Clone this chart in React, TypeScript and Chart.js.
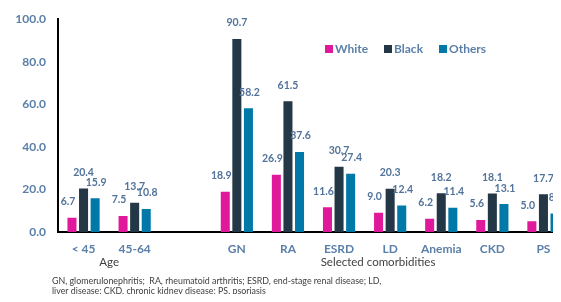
import React, { useEffect, useRef } from "react";
import { Chart, registerables } from "chart.js";

Chart.register(...registerables);

const categories = ["< 45", "45-64", "", "GN", "RA", "ESRD", "LD", "Anemia", "CKD", "PS"];
const whiteValues = [6.7, 7.5, null, 18.9, 26.9, 11.6, 9.0, 6.2, 5.6, 5.0];
const blackValues = [20.4, 13.7, null, 90.7, 61.5, 30.7, 20.3, 18.2, 18.1, 17.7];
const othersValues = [15.9, 10.8, null, 58.2, 37.6, 27.4, 12.4, 11.4, 13.1, 8.7];
const seriesNames = ["White", "Black", "Others"];
const seriesColors = ["#E0199A", "#243746", "#0079A8"];
const yTicks = [0, 20, 40, 60, 80, 100];
const groupTitles = ["Age", "Selected comorbidities"];
const footnoteLines = [
  "GN, glomerulonephritis;  RA, rheumatoid arthritis; ESRD, end-stage renal disease; LD,",
  "liver disease; CKD, chronic kidney disease; PS, psoriasis",
];

const FONT = "Lato, 'Open Sans', sans-serif";
const LABEL_BLUE = "#5A7FA8";
const VALUE_BLUE = "#52739A";
const DARK_TEXT = "#404040";

const overlayPlugin = {
  id: "overlay",
  afterDatasetsDraw(chart: any) {
    const ctx = chart.ctx;
    ctx.save();
    // value labels
    ctx.font = `bold 10.5px ${FONT}`;
    ctx.fillStyle = VALUE_BLUE;
    ctx.textAlign = "center";
    ctx.textBaseline = "middle";
    const shifts = [-4, 0, 1];
    chart.data.datasets.forEach((ds: any, di: number) => {
      const meta = chart.getDatasetMeta(di);
      meta.data.forEach((bar: any, i: number) => {
        const v = ds.data[i];
        if (v === null || v === undefined) return;
        ctx.fillText(v.toFixed(1), bar.x + shifts[di], bar.y - 16);
      });
    });

    // legend
    const legendX = [325, 384, 439];
    const legendY = 49;
    ctx.font = `bold 12px ${FONT}`;
    ctx.textAlign = "left";
    seriesNames.forEach((name, i) => {
      ctx.fillStyle = seriesColors[i];
      ctx.fillRect(legendX[i], legendY - 4, 8, 8);
      ctx.fillStyle = LABEL_BLUE;
      ctx.fillText(name, legendX[i] + 10, legendY);
    });

    // group titles
    const x = chart.scales.x;
    ctx.fillStyle = DARK_TEXT;
    ctx.font = `11.5px ${FONT}`;
    ctx.textAlign = "center";
    const ageX = (x.getPixelForValue(0) + x.getPixelForValue(1)) / 2;
    ctx.fillText(groupTitles[0], ageX, 262);
    ctx.fillText(groupTitles[1], 378, 262);

    // footnote
    ctx.font = `8.85px ${FONT}`;
    ctx.textAlign = "left";
    ctx.fillText(footnoteLines[0], 52, 281);
    ctx.fillText(footnoteLines[1], 52, 291);
    ctx.restore();
  },
};

export default function App() {
  const ref = useRef<HTMLCanvasElement>(null);
  useEffect(() => {
    if (!ref.current) return;
    const chart = new Chart(ref.current, {
      type: "bar",
      data: {
        labels: categories,
        datasets: [
          { label: seriesNames[0], data: whiteValues, backgroundColor: seriesColors[0] },
          { label: seriesNames[1], data: blackValues, backgroundColor: seriesColors[1] },
          { label: seriesNames[2], data: othersValues, backgroundColor: seriesColors[2] },
        ],
      },
      options: {
        animation: false,
        responsive: false,
        devicePixelRatio: 1,
        datasets: { bar: { categoryPercentage: 0.68, barPercentage: 0.78 } },
        layout: { padding: { top: 18, left: 0, right: 16, bottom: 45 } },
        plugins: { legend: { display: false }, tooltip: { enabled: false } },
        scales: {
          x: {
            grid: { display: false, drawTicks: false },
            border: { display: true, color: "#000", width: 2 },
            ticks: {
              color: LABEL_BLUE,
              font: { family: FONT, size: 12, weight: "bold" },
              padding: 10,
              maxRotation: 0,
              autoSkip: false,
            },
            afterFit: (s: any) => { s.height = 25; },
          },
          y: {
            min: 0,
            max: 100,
            afterBuildTicks: (s: any) => { s.ticks = yTicks.map((v) => ({ value: v })); },
            grid: { display: false, drawTicks: false },
            border: { display: true, color: "#000", width: 2 },
            ticks: {
              color: LABEL_BLUE,
              font: { family: FONT, size: 12, weight: "bold" },
              padding: 12,
              callback: (v: any) => Number(v).toFixed(1),
            },
            afterFit: (s: any) => { s.width = 58; },
          },
        },
      },
      plugins: [overlayPlugin],
    });
    return () => chart.destroy();
  }, []);
  return (
    <div style={{ position: "relative", width: 561, height: 302, overflow: "hidden", margin: -8, background: "#fff" }}>
      <canvas ref={ref} width={585} height={302} style={{ display: "block", width: 585, height: 302 }} />
    </div>
  );
}
